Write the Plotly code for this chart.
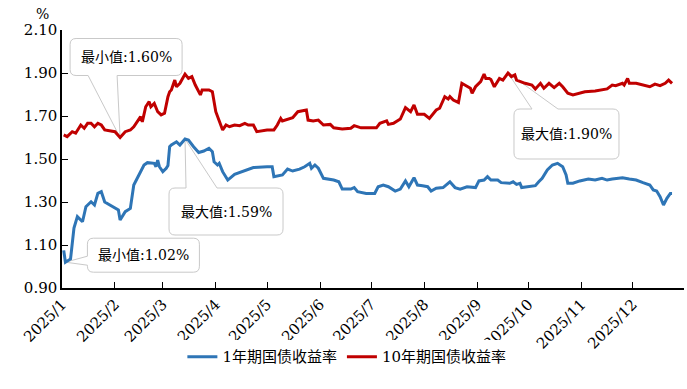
import plotly.graph_objects as go

# ---------------- data ----------------
dates_1y = [
    "2025-01-02", "2025-01-03", "2025-01-06", "2025-01-08", "2025-01-10", "2025-01-13", "2025-01-15",
    "2025-01-18", "2025-01-20", "2025-01-22", "2025-01-24", "2025-01-26", "2025-02-03", "2025-02-04",
    "2025-02-07", "2025-02-10", "2025-02-12", "2025-02-15", "2025-02-18", "2025-02-20", "2025-02-24",
    "2025-02-25", "2025-02-26", "2025-02-27", "2025-03-01", "2025-03-03", "2025-03-04", "2025-03-05",
    "2025-03-06", "2025-03-09", "2025-03-11", "2025-03-14", "2025-03-16", "2025-03-19", "2025-03-22",
    "2025-03-25", "2025-03-28", "2025-03-30", "2025-03-31", "2025-04-02", "2025-04-03", "2025-04-05",
    "2025-04-08", "2025-04-12", "2025-04-18", "2025-04-23", "2025-05-01", "2025-05-04", "2025-05-05",
    "2025-05-10", "2025-05-13", "2025-05-16", "2025-05-20", "2025-05-23", "2025-05-26", "2025-05-27",
    "2025-05-29", "2025-05-31", "2025-06-03", "2025-06-09", "2025-06-12", "2025-06-14", "2025-06-19",
    "2025-06-21", "2025-06-23", "2025-06-28", "2025-07-03", "2025-07-05", "2025-07-08", "2025-07-11",
    "2025-07-15", "2025-07-18", "2025-07-21", "2025-07-23", "2025-07-26", "2025-07-28", "2025-07-31",
    "2025-08-03", "2025-08-05", "2025-08-08", "2025-08-12", "2025-08-16", "2025-08-19", "2025-08-22",
    "2025-08-26", "2025-08-31", "2025-09-02", "2025-09-05", "2025-09-07", "2025-09-09", "2025-09-13",
    "2025-09-15", "2025-09-20", "2025-09-22", "2025-09-24", "2025-09-26", "2025-09-27", "2025-10-05",
    "2025-10-07", "2025-10-09", "2025-10-12", "2025-10-15", "2025-10-18", "2025-10-21", "2025-10-23",
    "2025-10-24", "2025-10-27", "2025-10-31", "2025-11-05", "2025-11-09", "2025-11-13", "2025-11-16",
    "2025-11-19", "2025-11-23", "2025-11-25", "2025-11-29", "2025-12-03", "2025-12-07", "2025-12-11",
    "2025-12-13", "2025-12-15", "2025-12-17", "2025-12-19", "2025-12-21", "2025-12-23", "2025-12-24",
]
yield_1y = [
    1.075, 1.02, 1.035, 1.179, 1.232, 1.208, 1.278,
    1.301, 1.286, 1.34, 1.348, 1.30, 1.263, 1.216,
    1.255, 1.27, 1.379, 1.426, 1.472, 1.483, 1.48,
    1.464, 1.495, 1.464, 1.441, 1.457, 1.47, 1.557,
    1.565, 1.58, 1.565, 1.593, 1.588, 1.557, 1.53,
    1.537, 1.55, 1.534, 1.487, 1.472, 1.48, 1.441,
    1.402, 1.429, 1.444, 1.46, 1.464, 1.464, 1.418,
    1.426, 1.453, 1.444, 1.453, 1.464, 1.48, 1.457,
    1.472, 1.457, 1.41, 1.402, 1.394, 1.36, 1.36,
    1.367, 1.348, 1.34, 1.34, 1.371, 1.379, 1.371,
    1.351, 1.36, 1.398, 1.371, 1.413, 1.379, 1.376,
    1.371, 1.351, 1.364, 1.367, 1.394, 1.367, 1.36,
    1.371, 1.367, 1.398, 1.402, 1.418, 1.402, 1.402,
    1.39, 1.387, 1.394, 1.382, 1.387, 1.367, 1.376,
    1.394, 1.41, 1.449, 1.472, 1.48, 1.464, 1.426,
    1.387, 1.387, 1.398, 1.407, 1.402, 1.41, 1.402,
    1.407, 1.41, 1.413, 1.407, 1.402, 1.39, 1.379,
    1.356, 1.351, 1.325, 1.286, 1.317, 1.34, 1.34,
]

dates_10y = [
    "2025-01-02", "2025-01-04", "2025-01-07", "2025-01-09", "2025-01-12", "2025-01-14", "2025-01-16",
    "2025-01-18", "2025-01-20", "2025-01-22", "2025-01-24", "2025-01-26", "2025-02-01", "2025-02-04",
    "2025-02-07", "2025-02-10", "2025-02-12", "2025-02-16", "2025-02-17", "2025-02-19", "2025-02-21",
    "2025-02-22", "2025-02-24", "2025-02-26", "2025-02-28", "2025-03-02", "2025-03-04", "2025-03-05",
    "2025-03-06", "2025-03-08", "2025-03-09", "2025-03-11", "2025-03-14", "2025-03-16", "2025-03-18",
    "2025-03-20", "2025-03-23", "2025-03-24", "2025-03-28", "2025-03-30", "2025-04-01", "2025-04-03",
    "2025-04-05", "2025-04-07", "2025-04-09", "2025-04-12", "2025-04-15", "2025-04-18", "2025-04-20",
    "2025-04-23", "2025-04-25", "2025-05-01", "2025-05-05", "2025-05-07", "2025-05-09", "2025-05-10",
    "2025-05-13", "2025-05-16", "2025-05-19", "2025-05-24", "2025-05-25", "2025-05-28", "2025-05-31",
    "2025-06-03", "2025-06-07", "2025-06-09", "2025-06-14", "2025-06-19", "2025-06-21", "2025-06-25",
    "2025-06-30", "2025-07-04", "2025-07-06", "2025-07-10", "2025-07-11", "2025-07-14", "2025-07-18",
    "2025-07-21", "2025-07-24", "2025-07-26", "2025-07-28", "2025-08-01", "2025-08-04", "2025-08-08",
    "2025-08-10", "2025-08-13", "2025-08-15", "2025-08-16", "2025-08-18", "2025-08-21", "2025-08-23",
    "2025-08-26", "2025-08-28", "2025-08-29", "2025-08-31", "2025-09-03", "2025-09-05", "2025-09-06",
    "2025-09-08", "2025-09-09", "2025-09-11", "2025-09-14", "2025-09-16", "2025-09-19", "2025-09-21",
    "2025-09-23", "2025-09-24", "2025-09-29", "2025-10-03", "2025-10-05", "2025-10-08", "2025-10-10",
    "2025-10-13", "2025-10-16", "2025-10-19", "2025-10-21", "2025-10-24", "2025-10-27", "2025-10-30",
    "2025-11-03", "2025-11-09", "2025-11-13", "2025-11-16", "2025-11-19", "2025-11-21", "2025-11-25",
    "2025-11-26", "2025-11-28", "2025-11-29", "2025-12-03", "2025-12-07", "2025-12-11", "2025-12-14",
    "2025-12-17", "2025-12-20", "2025-12-22", "2025-12-24",
]
yield_10y = [
    1.612, 1.604, 1.627, 1.62, 1.658, 1.643, 1.666,
    1.666, 1.65, 1.666, 1.658, 1.635, 1.627, 1.60,
    1.627, 1.635, 1.65, 1.697, 1.673, 1.743, 1.767,
    1.743, 1.759, 1.72, 1.705, 1.713, 1.79, 1.813,
    1.821, 1.867, 1.836, 1.852, 1.895, 1.875, 1.883,
    1.844, 1.798, 1.821, 1.821, 1.813, 1.72, 1.681,
    1.635, 1.658, 1.65, 1.658, 1.655, 1.666, 1.658,
    1.658, 1.627, 1.635, 1.635, 1.658, 1.689, 1.677,
    1.686, 1.692, 1.72, 1.728, 1.681, 1.677, 1.681,
    1.658, 1.661, 1.645, 1.64, 1.643, 1.655, 1.645,
    1.645, 1.645, 1.666, 1.677, 1.661, 1.666, 1.686,
    1.739, 1.72, 1.751, 1.708, 1.708, 1.689, 1.728,
    1.736, 1.79, 1.779, 1.79, 1.774, 1.763, 1.852,
    1.836, 1.829, 1.806, 1.836, 1.86, 1.895, 1.875,
    1.875, 1.87, 1.836, 1.875, 1.867, 1.90, 1.883,
    1.891, 1.867, 1.852, 1.844, 1.826, 1.852, 1.829,
    1.852, 1.832, 1.852, 1.836, 1.806, 1.798, 1.806,
    1.813, 1.816, 1.821, 1.826, 1.844, 1.841, 1.852,
    1.844, 1.875, 1.852, 1.852, 1.844, 1.836, 1.848,
    1.841, 1.852, 1.867, 1.852,
]

month_ticks = ["2025-%02d-01" % m for m in range(1, 13)]
month_labels = ["2025/%d" % m for m in range(1, 13)]

series_names = ["1年期国债收益率", "10年期国债收益率"]
series_colors = ["#2E75B6", "#C00000"]

FONT = "DejaVu Serif, Noto Sans CJK SC, serif"

fig = go.Figure()
fig.add_trace(go.Scatter(x=dates_1y, y=yield_1y, mode="lines", name=series_names[0],
                         line=dict(color=series_colors[0], width=3)))
fig.add_trace(go.Scatter(x=dates_10y, y=yield_10y, mode="lines", name=series_names[1],
                         line=dict(color=series_colors[1], width=3)))


def callout_path(x0, y0, x1, y1, side, p0, p1, r=6):
    """Rounded box with a pointer to (0,0). Screen coords (y down), converted to plotly pixel (y up)."""
    def P(x, y):
        return "%g %g" % (x, -y)

    s = "M " + P(x0 + r, y0)
    if side == "top":
        s += " L " + P(p0, y0) + " L " + P(0, 0) + " L " + P(p1, y0)
    s += " L " + P(x1 - r, y0) + " Q " + P(x1, y0) + " " + P(x1, y0 + r)
    s += " L " + P(x1, y1 - r) + " Q " + P(x1, y1) + " " + P(x1 - r, y1)
    if side == "bottom":
        s += " L " + P(p1, y1) + " L " + P(0, 0) + " L " + P(p0, y1)
    s += " L " + P(x0 + r, y1) + " Q " + P(x0, y1) + " " + P(x0, y1 - r)
    if side == "left":
        s += " L " + P(x0, p1) + " L " + P(0, 0) + " L " + P(x0, p0)
    s += " L " + P(x0, y0 + r) + " Q " + P(x0, y0) + " " + P(x0 + r, y0) + " Z"
    return s


i_min10 = yield_10y.index(min(yield_10y))
i_max10 = yield_10y.index(max(yield_10y))
i_min1 = yield_1y.index(min(yield_1y))
i_max1 = yield_1y.index(max(yield_1y))

callouts = [
    (dates_10y[i_min10], yield_10y[i_min10], "最小值:%.2f%%" % min(yield_10y),
     (-50, -99, 62, -62, "bottom", -32, -3)),
    (dates_1y[i_min1], yield_1y[i_min1], "最小值:%.2f%%" % min(yield_1y),
     (22, -24, 134, 10, "left", -6, 3)),
    (dates_1y[i_max1], yield_1y[i_max1], "最大值:%.2f%%" % max(yield_1y),
     (-16, 49, 98, 96, "top", 1, 32)),
    (dates_10y[i_max10], yield_10y[i_max10], "最大值:%.2f%%" % max(yield_10y),
     (6, 36, 111, 86, "top", 24, 50)),
]

for xd, yv, txt, (bx0, by0, bx1, by1, side, p0, p1) in callouts:
    fig.add_shape(type="path", xref="x", yref="y", xsizemode="pixel", ysizemode="pixel",
                  xanchor=xd, yanchor=yv,
                  path=callout_path(bx0, by0, bx1, by1, side, p0, p1),
                  fillcolor="white", line=dict(color="#c9c9c9", width=1), layer="below")
    fig.add_annotation(x=xd, y=yv, xref="x", yref="y", text=txt, showarrow=False,
                       xshift=(bx0 + bx1) / 2, yshift=-(by0 + by1) / 2,
                       font=dict(family=FONT, size=14, color="black"))

fig.add_annotation(x=-0.032, y=1.062, xref="paper", yref="paper", text="%", showarrow=False,
                   xanchor="center", yanchor="middle",
                   font=dict(family=FONT, size=14, color="black"))

fig.update_layout(
    width=687, height=389,
    margin=dict(l=62, r=3, t=30, b=101),
    paper_bgcolor="white", plot_bgcolor="white",
    font=dict(family=FONT, color="black"),
    showlegend=True,
    legend=dict(orientation="h", x=0.458, xanchor="center", y=-0.267, yanchor="middle",
                font=dict(family=FONT, size=15), itemwidth=30, tracegroupgap=0),
    xaxis=dict(type="date", range=["2025-01-01", "2025-12-31"],
               tickvals=month_ticks, ticktext=month_labels, tickangle=-45,
               ticks="inside", ticklen=6, tickcolor="black",
               showline=True, linecolor="black", linewidth=1.5,
               showgrid=False, zeroline=False,
               tickfont=dict(family=FONT, size=15)),
    yaxis=dict(range=[0.9, 2.1], dtick=0.2, tick0=0.9, tickformat=".2f",
               ticks="inside", ticklen=6, tickcolor="black",
               showline=True, linecolor="black", linewidth=1.5,
               showgrid=False, zeroline=False,
               tickfont=dict(family=FONT, size=15)),
)

fig.write_html("out.html", config={"displayModeBar": False},
               post_script="document.body.style.margin='0';document.body.style.overflow='hidden';")
